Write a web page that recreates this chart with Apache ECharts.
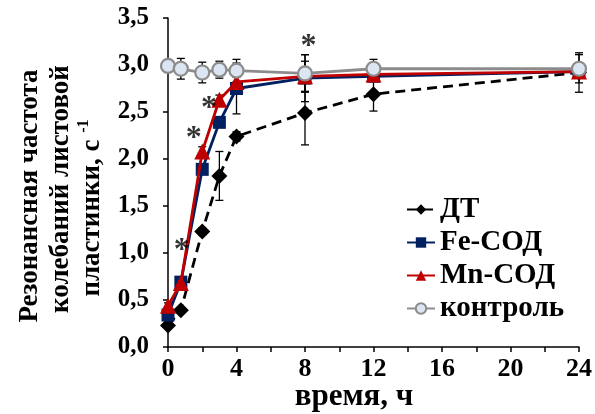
<!DOCTYPE html>
<html><head><meta charset="utf-8">
<script src="https://cdn.jsdelivr.net/npm/echarts@6/dist/echarts.min.js"></script>
<style>html,body{margin:0;padding:0;background:#fff}#c{width:595px;height:414px}</style>
</head><body><div id="c"></div>
<script>
const hours = [0, 0.75, 2, 3, 4, 8, 12, 24];
const dtVals = [0.23, 0.39, 1.23, 1.82, 2.24, 2.49, 2.69, 2.92];
const dtErr = [0.03, 0.03, 0.04, 0.26, 0.05, 0.34, 0.18, 0.21];
const feVals = [0.34, 0.69, 1.89, 2.39, 2.75, 2.86, 2.88, 2.93];
const feErr = [0.03, 0.03, 0.05, 0.05, 0.27, 0.25, 0.05, 0.05];
const mnVals = [0.44, 0.68, 2.08, 2.63, 2.82, 2.88, 2.90, 2.93];
const mnErr = [0.03, 0.03, 0.05, 0.05, 0.05, 0.16, 0.05, 0.05];
const ctrlVals = [2.99, 2.96, 2.92, 2.95, 2.94, 2.91, 2.96, 2.96];
const ctrlErr = [0.03, 0.11, 0.11, 0.09, 0.12, 0.20, 0.10, 0.15];
const starX = [0.8, 1.5, 2.4, 8.2];
const starY = [1.02, 2.22, 2.53, 3.19];
const seriesNames = ['ДТ', 'Fe-СОД', 'Mn-СОД', 'контроль'];

const FONT = '"Liberation Serif","Times New Roman",serif';
const pairs = (ys) => hours.map((x, i) => [x, ys[i]]);
const errData = (ys, es) => hours.map((x, i) => [x, ys[i] - es[i], ys[i] + es[i]]);

function errSeries(ys, es) {
  return {
    type: 'custom', silent: true, z: 1,
    data: errData(ys, es),
    renderItem: function (params, api) {
      const x = api.value(0);
      const lo = api.coord([x, api.value(1)]);
      const hi = api.coord([x, api.value(2)]);
      const w = 4;
      const st = { stroke: '#000', lineWidth: 1.3 };
      return { type: 'group', children: [
        { type: 'line', shape: { x1: lo[0], y1: lo[1], x2: hi[0], y2: hi[1] }, style: st },
        { type: 'line', shape: { x1: lo[0] - w, y1: lo[1], x2: lo[0] + w, y2: lo[1] }, style: st },
        { type: 'line', shape: { x1: hi[0] - w, y1: hi[1], x2: hi[0] + w, y2: hi[1] }, style: st }
      ]};
    }
  };
}

const chart = echarts.init(document.getElementById('c'), null, { renderer: 'canvas' });
chart.setOption({
  animation: false,
  backgroundColor: '#fff',
  grid: { left: 168, right: 16, top: 18, bottom: 67, containLabel: false, outerBoundsMode: 'none' },
  xAxis: {
    type: 'value', min: 0, max: 24, interval: 2,
    splitLine: { show: false },
    axisLine: { lineStyle: { color: '#000', width: 1.5 } },
    axisTick: { length: 5, lineStyle: { color: '#000', width: 1.5 } },
    axisLabel: { color: '#000', fontFamily: FONT, fontWeight: 'bold', fontSize: 26, margin: 9,
      formatter: v => (v % 4 === 0 ? String(v) : '') }
  },
  yAxis: {
    type: 'value', min: 0, max: 3.5, interval: 0.5,
    splitLine: { show: false },
    axisLine: { show: true, lineStyle: { color: '#000', width: 1.5 } },
    axisTick: { show: true, length: 5, lineStyle: { color: '#000', width: 1.5 } },
    axisLabel: { color: '#000', fontFamily: FONT, fontWeight: 'bold', fontSize: 25, margin: 19,
      formatter: v => v.toFixed(1).replace('.', ',') }
  },
  legend: {
    orient: 'vertical', left: 406, top: 195, padding: 0, itemWidth: 28, itemHeight: 13, itemGap: 4,
    textStyle: { color: '#000', fontFamily: FONT, fontWeight: 'bold', fontSize: 29 },
    data: seriesNames
  },
  graphic: [
    { type: 'text', x: 30, y: 196, rotation: Math.PI / 2,
      style: { text: 'Резонансная частота', font: 'bold 27px ' + FONT, fill: '#000', align: 'center', verticalAlign: 'middle' } },
    { type: 'text', x: 61, y: 189, rotation: Math.PI / 2,
      style: { text: 'колебаний листовой', font: 'bold 27px ' + FONT, fill: '#000', align: 'center', verticalAlign: 'middle' } },
    { type: 'text', x: 92, y: 208, rotation: Math.PI / 2,
      style: { text: '{a|пластинки, с }{s|-1}', align: 'center', verticalAlign: 'middle',
        rich: { a: { fontSize: 27, fontFamily: FONT, fontWeight: 'bold', color: '#000' },
                s: { fontSize: 16, fontFamily: FONT, fontWeight: 'bold', color: '#000', padding: [0, 0, 16, 0] } } } },
    { type: 'text', x: 354, y: 397,
      style: { text: 'время, ч', font: 'bold 31px ' + FONT, fill: '#000', align: 'center', verticalAlign: 'middle' } }
  ],
  series: [
    errSeries(dtVals, dtErr), errSeries(feVals, feErr), errSeries(mnVals, mnErr), errSeries(ctrlVals, ctrlErr),
    { name: 'ДТ', type: 'line', data: pairs(dtVals), z: 2, symbol: 'diamond', symbolSize: 16,
      lineStyle: { color: '#000', width: 2.8, type: [10, 6] }, itemStyle: { color: '#000' } },
    { name: 'Fe-СОД', type: 'line', data: pairs(feVals), z: 3, symbol: 'rect', symbolSize: 13,
      lineStyle: { color: '#002060', width: 2.8 }, itemStyle: { color: '#002060' } },
    { name: 'Mn-СОД', type: 'line', data: pairs(mnVals), z: 4, symbol: 'triangle', symbolSize: 16,
      lineStyle: { color: '#C00000', width: 2.8 }, itemStyle: { color: '#C00000' } },
    { name: 'контроль', type: 'line', data: pairs(ctrlVals), z: 5, symbol: 'circle', symbolSize: 14,
      lineStyle: { color: '#8C8C8C', width: 2.8 }, itemStyle: { color: '#DCE6F2', borderColor: '#8C8C8C', borderWidth: 2.2 } },
    { type: 'scatter', silent: true, z: 6, symbol: 'circle', symbolSize: 1,
      itemStyle: { color: 'rgba(0,0,0,0)' },
      data: starX.map((x, i) => [x, starY[i]]),
      label: { show: true, position: 'inside', formatter: '*', color: '#000', fontFamily: FONT, fontWeight: 'bold', fontSize: 32 } }
  ]
});
</script></body></html>
